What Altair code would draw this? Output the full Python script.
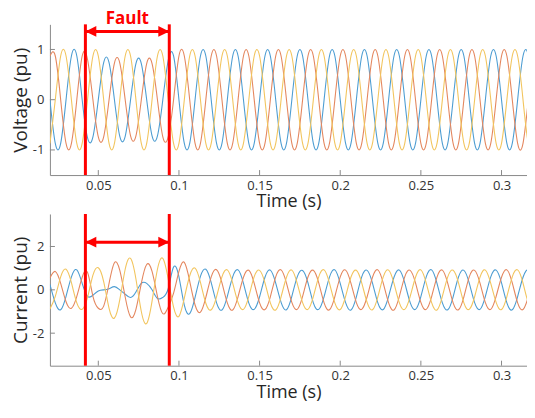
import altair as alt
import pandas as pd

# ---- time grid (s), six samples per 50 Hz cycle ----
t = [
    0.02, 0.02333, 0.02667, 0.03, 0.03333, 0.03667,
    0.04, 0.04333, 0.04667, 0.05, 0.05333, 0.05667,
    0.06, 0.06333, 0.06667, 0.07, 0.07333, 0.07667,
    0.08, 0.08333, 0.08667, 0.09, 0.09333, 0.09667,
    0.10, 0.10333, 0.10667, 0.11, 0.11333, 0.11667,
    0.12, 0.12333, 0.12667, 0.13, 0.13333, 0.13667,
    0.14, 0.14333, 0.14667, 0.15, 0.15333, 0.15667,
    0.16, 0.16333, 0.16667, 0.17, 0.17333, 0.17667,
    0.18, 0.18333, 0.18667, 0.19, 0.19333, 0.19667,
    0.20, 0.20333, 0.20667, 0.21, 0.21333, 0.21667,
    0.22, 0.22333, 0.22667, 0.23, 0.23333, 0.23667,
    0.24, 0.24333, 0.24667, 0.25, 0.25333, 0.25667,
    0.26, 0.26333, 0.26667, 0.27, 0.27333, 0.27667,
    0.28, 0.28333, 0.28667, 0.29, 0.29333, 0.29667,
    0.30, 0.30333, 0.30667, 0.31, 0.31333, 0.31667,
    0.32,
]

# ---- voltage (pu) ----
volt_a = [
    0, -0.87, -0.87, 0, 0.87, 0.87,
    0, -0.76, -0.74, 0, 0.74, 0.74,
    0, -0.73, -0.73, 0, 0.72, 0.72,
    0, -0.72, -0.72, 0, 0.78, 0.87,
    0, -0.87, -0.87, 0, 0.87, 0.87,
    0, -0.87, -0.87, 0, 0.87, 0.87,
    0, -0.87, -0.87, 0, 0.87, 0.87,
    0, -0.87, -0.87, 0, 0.87, 0.87,
    0, -0.87, -0.87, 0, 0.87, 0.87,
    0, -0.87, -0.87, 0, 0.87, 0.87,
    0, -0.87, -0.87, 0, 0.87, 0.87,
    0, -0.87, -0.87, 0, 0.87, 0.87,
    0, -0.87, -0.87, 0, 0.87, 0.87,
    0, -0.87, -0.87, 0, 0.87, 0.87,
    0, -0.87, -0.87, 0, 0.87, 0.87,
    0,
]
volt_b = [
    0.87, 0.87, 0, -0.87, -0.87, 0,
    0.87, 0.80, 0, -0.74, -0.74, 0,
    0.73, 0.73, 0, -0.72, -0.72, 0,
    0.72, 0.72, 0, -0.74, -0.74, 0,
    0.87, 0.87, 0, -0.87, -0.87, 0,
    0.87, 0.87, 0, -0.87, -0.87, 0,
    0.87, 0.87, 0, -0.87, -0.87, 0,
    0.87, 0.87, 0, -0.87, -0.87, 0,
    0.87, 0.87, 0, -0.87, -0.87, 0,
    0.87, 0.87, 0, -0.87, -0.87, 0,
    0.87, 0.87, 0, -0.87, -0.87, 0,
    0.87, 0.87, 0, -0.87, -0.87, 0,
    0.87, 0.87, 0, -0.87, -0.87, 0,
    0.87, 0.87, 0, -0.87, -0.87, 0,
    0.87, 0.87, 0, -0.87, -0.87, 0,
    0.87,
]
volt_c = [
    -0.87, 0, 0.87, 0.87, 0, -0.87,
    -0.87, 0, 0.87, 0.87, 0, -0.87,
    -0.87, 0, 0.87, 0.87, 0, -0.87,
    -0.87, 0, 0.87, 0.87, 0, -0.87,
    -0.87, 0, 0.87, 0.87, 0, -0.87,
    -0.87, 0, 0.87, 0.87, 0, -0.87,
    -0.87, 0, 0.87, 0.87, 0, -0.87,
    -0.87, 0, 0.87, 0.87, 0, -0.87,
    -0.87, 0, 0.87, 0.87, 0, -0.87,
    -0.87, 0, 0.87, 0.87, 0, -0.87,
    -0.87, 0, 0.87, 0.87, 0, -0.87,
    -0.87, 0, 0.87, 0.87, 0, -0.87,
    -0.87, 0, 0.87, 0.87, 0, -0.87,
    -0.87, 0, 0.87, 0.87, 0, -0.87,
    -0.87, 0, 0.87, 0.87, 0, -0.87,
    -0.87,
]

# ---- current (pu) ----
curr_a = [
    0.25, -0.6, -0.92, -0.3, 0.6, 0.92,
    0.3, -0.3, -0.25, -0.05, 0.0, 0.05,
    0.15, 0.0, -0.2, -0.35, -0.1, 0.3,
    0.3, 0.0, -0.4, -0.35, 0.05, 1.05,
    0.6, -0.7, -1.1, -0.35, 0.62, 0.95,
    0.33, -0.6, -0.93, -0.3, 0.6, 0.92,
    0.3, -0.61, -0.9, -0.32, 0.58, 0.91,
    0.31, -0.58, -0.92, -0.3, 0.6, 0.89,
    0.32, -0.6, -0.9, -0.31, 0.59, 0.92,
    0.3, -0.59, -0.93, -0.32, 0.6, 0.9,
    0.31, -0.6, -0.91, -0.3, 0.58, 0.91,
    0.32, -0.58, -0.9, -0.31, 0.6, 0.92,
    0.3, -0.6, -0.92, -0.32, 0.59, 0.9,
    0.31, -0.59, -0.9, -0.3, 0.6, 0.91,
    0.32, -0.6, -0.92, -0.31, 0.58, 0.9,
    0.31,
]
curr_b = [
    0.55, 0.85, 0.3, -0.55, -0.85, -0.3,
    0.58, 0.8, -0.3, -0.85, -0.75, 0.3,
    1.25, 0.9, -0.33, -1.25, -0.9, 0.3,
    1.17, 0.85, -0.3, -1.1, -0.8, -0.15,
    0.85, 1.27, 0.4, -0.7, -1.03, -0.35,
    0.6, 0.93, 0.32, -0.6, -0.93, -0.31,
    0.58, 0.9, 0.3, -0.6, -0.91, -0.32,
    0.6, 0.92, 0.31, -0.58, -0.9, -0.3,
    0.59, 0.9, 0.32, -0.6, -0.92, -0.31,
    0.6, 0.91, 0.3, -0.59, -0.9, -0.32,
    0.58, 0.92, 0.31, -0.6, -0.93, -0.3,
    0.6, 0.9, 0.32, -0.58, -0.9, -0.31,
    0.59, 0.91, 0.3, -0.6, -0.92, -0.32,
    0.6, 0.9, 0.31, -0.59, -0.9, -0.3,
    0.58, 0.92, 0.32, -0.6, -0.91, -0.31,
    0.6,
]
curr_c = [
    -0.88, -0.3, 0.6, 0.95, 0.33, -0.6,
    -0.9, -0.35, 0.68, 1.02, 0.38, -0.85,
    -1.3, -0.45, 0.95, 1.45, 0.5, -1.0,
    -1.55, -0.52, 0.95, 1.45, 0.5, -0.8,
    -1.22, -0.38, 0.65, 1.0, 0.34, -0.62,
    -0.92, -0.31, 0.6, 0.92, 0.31, -0.59,
    -0.9, -0.3, 0.61, 0.9, 0.32, -0.6,
    -0.93, -0.32, 0.58, 0.91, 0.3, -0.59,
    -0.9, -0.31, 0.6, 0.92, 0.31, -0.6,
    -0.91, -0.3, 0.59, 0.9, 0.32, -0.58,
    -0.92, -0.32, 0.6, 0.91, 0.3, -0.6,
    -0.9, -0.31, 0.58, 0.92, 0.31, -0.59,
    -0.93, -0.3, 0.6, 0.9, 0.32, -0.6,
    -0.9, -0.32, 0.59, 0.91, 0.3, -0.58,
    -0.91, -0.31, 0.6, 0.92, 0.31, -0.6,
    -0.9,
]

fault_times = [0.042, 0.094]
fault_label = "Fault"
x_ticks = [0.05, 0.1, 0.15, 0.2, 0.25, 0.3]
volt_ticks = [-1, 0, 1]
curr_ticks = [-2, 0, 2]
x_domain = [0.02, 0.3158]

COLORS = ["#4D9DD2", "#E4875F", "#F2C55E"]
RED = "#FF0000"
FONT = "Open Sans"
W = 478


def panel(series, ydom, yticks, ytitle, arrow_y, height, with_label):
    xs = alt.Scale(domain=x_domain, nice=False, zero=False)
    ys = alt.Scale(domain=ydom, nice=False, zero=False)
    x_axis = alt.Axis(values=x_ticks, title="Time (s)", labelExpr="datum.value + ''")
    y_axis = alt.Axis(values=yticks, title=ytitle, labelExpr="datum.value + ''")

    def X(field="t"):
        return alt.X(f"{field}:Q", scale=xs, axis=x_axis)

    def Y(field="v"):
        return alt.Y(f"{field}:Q", scale=ys, axis=y_axis)

    layers = []
    for i, vals in enumerate(series):
        df = pd.DataFrame({"t": t, "v": vals})
        layers.append(
            alt.Chart(df).mark_line(
                interpolate="natural", color=COLORS[i], strokeWidth=1.1, clip=True
            ).encode(x=X(), y=Y())
        )
    # inward tick marks (MATLAB style)
    layers.append(
        alt.Chart(pd.DataFrame({"t": x_ticks})).mark_rule(color="#8a8a8a", strokeWidth=1).encode(
            x=X(), y=alt.value(height), y2=alt.value(height - 5)
        )
    )
    layers.append(
        alt.Chart(pd.DataFrame({"v": yticks})).mark_rule(color="#8a8a8a", strokeWidth=1).encode(
            y=Y(), x=alt.value(0), x2=alt.value(5)
        )
    )
    # fault boundaries
    layers.append(
        alt.Chart(pd.DataFrame({"t": fault_times})).mark_rule(color=RED, strokeWidth=3).encode(x=X())
    )
    arrow = pd.DataFrame({"t": [fault_times[0]], "t1": [fault_times[1]], "v": [arrow_y]})
    layers.append(
        alt.Chart(arrow).mark_rule(color=RED, strokeWidth=3).encode(x=X(), x2="t1:Q", y=Y())
    )
    heads = pd.DataFrame({"t": fault_times, "v": [arrow_y, arrow_y]})
    layers.append(
        alt.Chart(heads.iloc[[0]]).mark_point(
            shape="M0,0L2,-1L2,1Z", filled=True, size=120, color=RED, opacity=1, strokeWidth=0
        ).encode(x=X(), y=Y())
    )
    layers.append(
        alt.Chart(heads.iloc[[1]]).mark_point(
            shape="M0,0L-2,-1L-2,1Z", filled=True, size=120, color=RED, opacity=1, strokeWidth=0
        ).encode(x=X(), y=Y())
    )
    if with_label:
        lab = pd.DataFrame({"t": [sum(fault_times) / 2], "v": [1.5], "label": [fault_label]})
        layers.append(
            alt.Chart(lab).mark_text(
                color=RED, fontWeight="bold", fontSize=17, font=FONT, baseline="alphabetic"
            ).encode(x=X(), y=Y(), text="label:N")
        )
    return alt.layer(*layers).properties(width=W, height=height)


top = panel([volt_a, volt_b, volt_c], [-1.5, 1.5], volt_ticks, "Voltage (pu)", 1.36, 151, True)
bottom = panel([curr_a, curr_b, curr_c], [-3.5, 3.5], curr_ticks, "Current (pu)", 2.2, 152, False)

chart = (
    alt.vconcat(top, bottom, spacing=39, bounds="flush")
    .properties(padding={"left": 3, "top": 2, "right": 0, "bottom": 0})
    .configure_view(stroke=None)
    .configure_axis(
        grid=False,
        ticks=False,
        domainColor="#8a8a8a",
        domainWidth=1,
        labelFont=FONT,
        labelFontSize=13,
        labelColor="#333333",
        titleFont=FONT,
        titleFontWeight="normal",
        titleColor="#262626",
    )
    .configure_axisX(labelPadding=4, titlePadding=1, titleFontSize=18)
    .configure_axisY(labelPadding=6, titlePadding=2, titleFontSize=19)
)

chart.save("out.html", embed_options={"renderer": "svg", "actions": False})
